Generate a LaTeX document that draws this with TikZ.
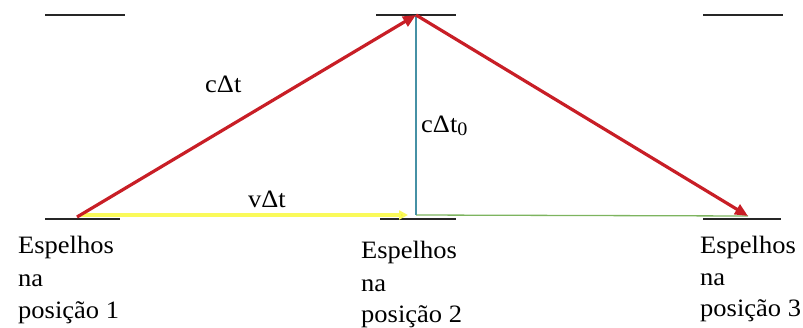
\documentclass[tikz,border=0pt]{standalone}
\usepackage{fontspec}
\newfontfamily\tms{Liberation Serif}
\usetikzlibrary{arrows.meta}
\definecolor{raycol}{RGB}{200,30,38}
\definecolor{tealcol}{RGB}{70,145,165}
\definecolor{yelcol}{RGB}{250,250,90}
\definecolor{yeltip}{RGB}{240,232,20}
\definecolor{grncol}{RGB}{125,180,95}
\tikzset{
  mirror/.style={draw=black!85, line width=1.8pt},
  ray/.style={draw=raycol, line width=3.2pt, -{Triangle[length=13pt,width=11pt]}},
  lbl/.style={anchor=base west, inner sep=0pt, font=\tms\fontsize{25}{30}\selectfont},
}
\newcommand{\wide}[1]{\scalebox{1.06}[1]{#1}}
\begin{document}
\begin{tikzpicture}[x=1pt,y=-1pt]
\useasboundingbox (0,0) rectangle (803,327);
% mirror endpoints
\coordinate (t1a) at (45,15);  \coordinate (t1b) at (125,15);
\coordinate (t2a) at (376,15); \coordinate (t2b) at (456,15);
\coordinate (t3a) at (703,15); \coordinate (t3b) at (783,15);
\coordinate (b1a) at (45,219); \coordinate (b1b) at (120,219);
\coordinate (b2a) at (380,219); \coordinate (b2b) at (456,219);
\coordinate (b3a) at (703,219); \coordinate (b3b) at (781,219);
% ray points
\coordinate (p1) at (77,217);
\coordinate (p2) at (416,15);
\coordinate (p3) at (748,216);
\coordinate (f2) at (416,215);
\coordinate (y1) at (80,215);
\coordinate (y2) at (408,215);
% mirrors
\draw[mirror] (t1a) -- (t1b);
\draw[mirror] (t2a) -- (t2b);
\draw[mirror] (t3a) -- (t3b);
\draw[mirror] (b1a) -- (b1b);
\draw[mirror] (b2a) -- (b2b);
\draw[mirror] (b3a) -- (b3b);
% lines
\draw[grncol, line width=1.3pt] (f2) -- (p3);
\draw[tealcol, line width=1.3pt] (p2) -- (f2);
\draw[yelcol, line width=3.5pt, -{Triangle[length=9pt,width=9pt,fill=yeltip]}] (y1) -- (y2);
\draw[ray] (p1) -- (p2);
\draw[ray] (p2) -- (p3);
% labels
\node[lbl] (cdt) at (205,92) {\wide{cΔt}};
\node[lbl] (cdt0) at (421,132) {\wide{cΔt\raisebox{-3pt}{\fontsize{19}{19}\selectfont 0}}};
\node[lbl] (vdt) at (248,207) {\wide{vΔt}};
\node[lbl] (e1) at (18,253) {\wide{Espelhos}};
\node[lbl] (n1) at (18,286) {\wide{na}};
\node[lbl] (q1) at (18,318) {\wide{posição 1}};
\node[lbl] (e2) at (361,258) {\wide{Espelhos}};
\node[lbl] (n2) at (361,291) {\wide{na}};
\node[lbl] (q2) at (361,322) {\wide{posição 2}};
\node[lbl] (e3) at (700,253) {\wide{Espelhos}};
\node[lbl] (n3) at (700,285) {\wide{na}};
\node[lbl] (q3) at (700,316) {\wide{posição 3}};
\end{tikzpicture}
\end{document}
